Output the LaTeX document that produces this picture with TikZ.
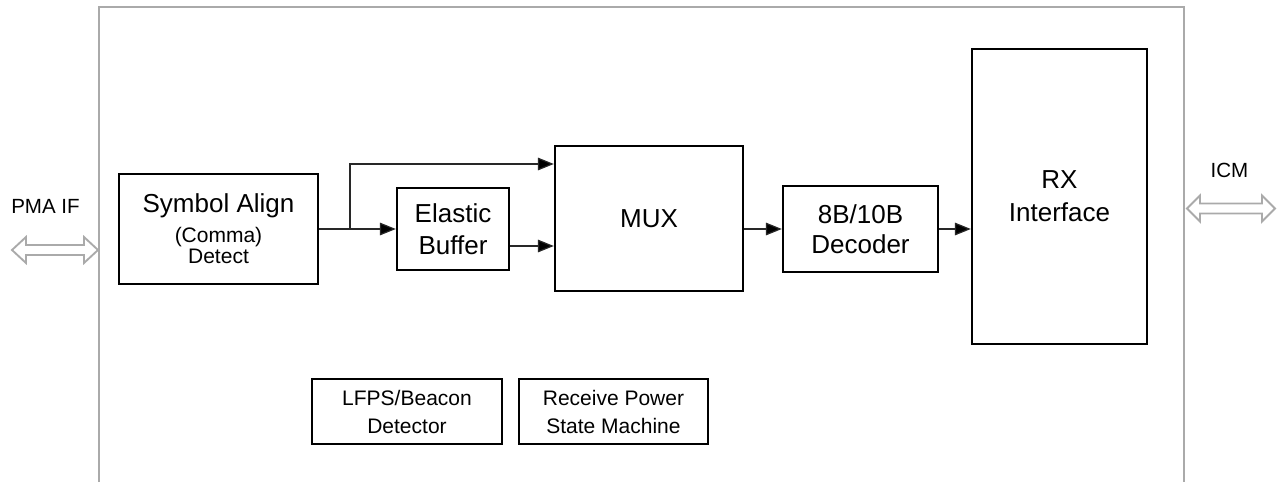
\documentclass[tikz,border=0pt]{standalone}
\usepackage{fontspec}
\setmainfont{Liberation Sans}
\usetikzlibrary{arrows.meta,calc}
\definecolor{framegray}{RGB}{170,170,170}
\definecolor{linegray}{RGB}{40,40,40}
\tikzset{
  blk/.style={draw=black, line width=1.8pt, rectangle, inner sep=0pt, align=center, fill=white},
  bigtxt/.style={font=\fontsize{19.5pt}{24pt}\selectfont},
  smalltxt/.style={font=\fontsize{15.75pt}{21pt}\selectfont},
  conn/.style={draw=linegray, line width=0.9pt, -{Triangle[length=12pt,width=9.5pt,fill=black]}},
  frameline/.style={draw=framegray, line width=1.7pt},
  dblarrow/.style={draw=framegray, line width=1.4pt, fill=white, line join=miter},
  sidetxt/.style={font=\fontsize{15.4pt}{18pt}\selectfont, inner sep=0pt}
}
\begin{document}
\begin{tikzpicture}[x=0.75pt, y=-0.75pt]
\useasboundingbox (0,0) rectangle (1278,482);
% outer frame (open at the bottom)
\draw[frameline] (99,482) -- (99,7) -- (1184,7) -- (1184,482);
% blocks
\node[blk, minimum width=199*0.75pt, minimum height=110*0.75pt, font=\fontsize{15.75pt}{16pt}\selectfont] (sym) at (218.5,229)
  {{\fontsize{19.5pt}{22.5pt}\selectfont Symbol Align}\\[6.5pt](Comma)\\Detect};
\node[blk, bigtxt, minimum width=112*0.75pt, minimum height=82*0.75pt] (eb) at (453,229) {Elastic\\Buffer};
\node[blk, bigtxt, minimum width=188*0.75pt, minimum height=145*0.75pt] (mux) at (649,218.5) {MUX};
\node[blk, minimum width=155*0.75pt, minimum height=86*0.75pt, font=\fontsize{19.5pt}{22.5pt}\selectfont] (dec) at (860.5,229) {8B/10B\\Decoder};
\node[blk, minimum width=175*0.75pt, minimum height=295*0.75pt, font=\fontsize{19.5pt}{24.75pt}\selectfont] (rx) at (1059.5,196.5) {RX\\Interface};
\node[blk, smalltxt, minimum width=190*0.75pt, minimum height=65*0.75pt] (lfps) at (407,411.5) {LFPS/Beacon\\Detector};
\node[blk, smalltxt, minimum width=189*0.75pt, minimum height=65*0.75pt] (rpsm) at (613.5,411.5) {Receive Power\\State Machine};
% side labels
\node[sidetxt] (pma) at (45.5,206) {PMA IF};
\node[sidetxt] (icm) at (1229.5,170) {ICM};
% connectors
\coordinate (fork) at (350,229);
\draw[conn] (sym.east) -- (eb.west);
\draw[conn] (fork) |- (mux.west |- 0,164);
\draw[conn] (eb.east |- 0,246) -- (mux.west |- 0,246);
\draw[conn] (mux.east |- 0,229) -- (dec.west);
\draw[conn] (dec.east) -- (rx.west |- dec.east);
% hollow double arrows
\draw[dblarrow] (12,250) -- (26,237) -- (26,245) -- (84,245) -- (84,237) -- (98,250)
  -- (84,263) -- (84,255) -- (26,255) -- (26,263) -- cycle;
\draw[dblarrow] (1187,208.5) -- (1200,195.5) -- (1200,203.5) -- (1262,203.5) -- (1262,195.5) -- (1275,208.5)
  -- (1262,221.5) -- (1262,213.5) -- (1200,213.5) -- (1200,221.5) -- cycle;
\end{tikzpicture}
\end{document}
